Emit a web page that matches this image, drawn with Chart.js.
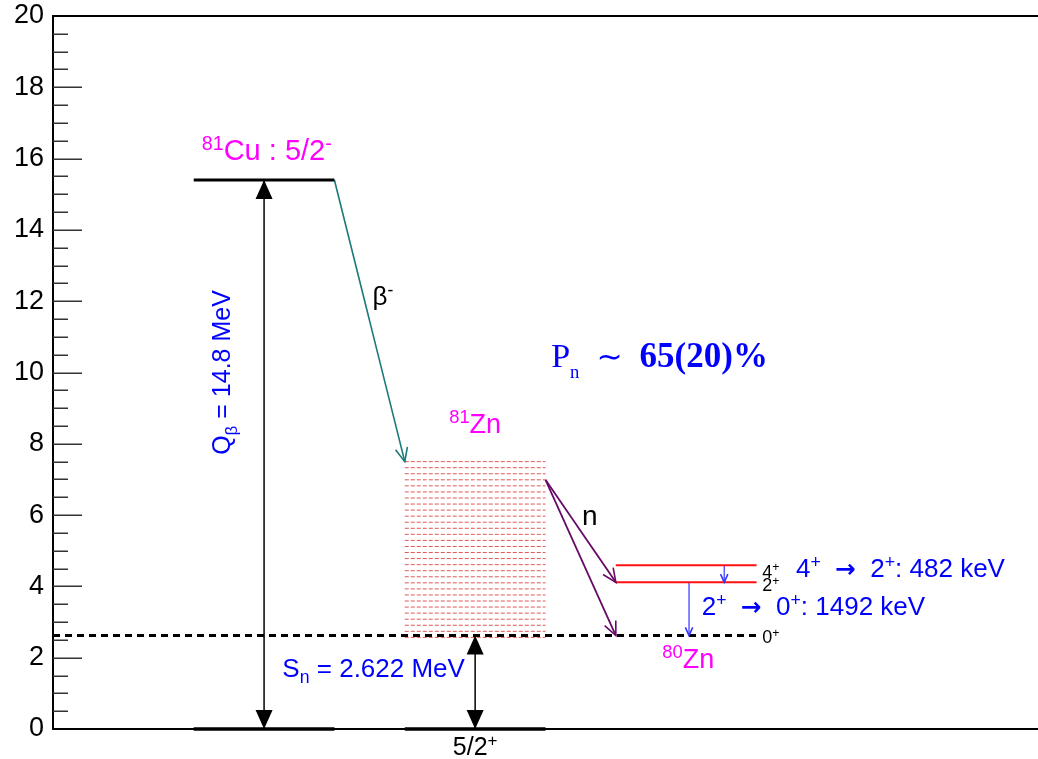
<!DOCTYPE html>
<html><head><meta charset="utf-8">
<script src="https://cdn.jsdelivr.net/npm/chart.js@4/dist/chart.umd.min.js"></script>
<style>html,body{margin:0;padding:0;background:#fff;overflow:hidden}canvas{display:block}</style>
</head><body>
<canvas id="c" width="1038" height="759"></canvas>
<script>
// ---------- data (energies in MeV) ----------
const yRange = [0, 20];
const yMajorTicks = [0, 2, 4, 6, 8, 10, 12, 14, 16, 18, 20];
const yMinorTicks = [0.5,1,1.5,2.5,3,3.5,4.5,5,5.5,6.5,7,7.5,8.5,9,9.5,10.5,11,11.5,12.5,13,13.5,14.5,15,15.5,16.5,17,17.5,18.5,19,19.5];
const cuGroundEnergy = 15.4;          // 81Cu 5/2- (drawn)
const groundEnergy = 0;               // reference levels
const snEnergy = 2.622;               // S_n
const zn80Levels = [4.114, 4.596];    // 80Zn 2+, 4+ (above 80Zn g.s. at S_n)
const zn81Continuum = [7.50,7.33,7.16,6.99,6.82,6.65,6.48,6.31,6.14,5.97,5.80,5.63,5.46,5.29,5.12,4.95,4.78,4.61,4.44,4.27,4.10,3.93,3.76,3.59,3.42,3.25,3.08,2.91,2.74,2.57];
const betaFeedEnergy = 7.50;
const neutronStartEnergy = 6.99;

// ---------- layout (x columns in arbitrary units) ----------
const COL = { cu:[1,2], zn81:[2.5,3.5], zn80:[4,5], sn:[0,5] };
const XQ = 1.5, XSN = 3.0, XG1 = 4.77, XG2 = 4.52;

const SANS = '"Liberation Sans", Arial, Helvetica, sans-serif';
const SERIF = '"Liberation Serif", "Times New Roman", serif';
const MAG = '#ff00ff', BLUE = '#0000ff';

function seg(a,b,e){ return [{x:a,y:e},{x:b,y:e}]; }
const datasets = [];
function line(data, color, width, extra){ datasets.push(Object.assign({data, showLine:true, borderColor:color, backgroundColor:color, borderWidth:width, pointRadius:0, clip:false, tension:0}, extra||{})); }

// 81Zn continuum
zn81Continuum.forEach(e => line(seg(COL.zn81[0], COL.zn81[1], e), 'rgba(220,60,60,0.85)', 1, {borderDash:[4,2]}));
// levels
line(seg(COL.cu[0], COL.cu[1], cuGroundEnergy), '#000', 3);
line(seg(COL.cu[0], COL.cu[1], groundEnergy), '#000', 3.5);
line(seg(COL.zn81[0], COL.zn81[1], groundEnergy), '#000', 3.5);
line(seg(COL.sn[0], COL.sn[1], snEnergy), '#000', 3, {borderDash:[7,5]});
zn80Levels.forEach(e => line(seg(COL.zn80[0], COL.zn80[1], e), '#ff1010', 2));
// arrows
line([{x:XQ,y:groundEnergy},{x:XQ,y:cuGroundEnergy}], '#000', 1.5, {arrow:'both', head:'filled'});
line([{x:XSN,y:groundEnergy},{x:XSN,y:snEnergy}], '#000', 1.5, {arrow:'both', head:'filled'});
line([{x:COL.cu[1],y:cuGroundEnergy},{x:COL.zn81[0],y:betaFeedEnergy}], '#1b7b78', 1.6, {arrow:'end', head:'open', hl:15});
line([{x:COL.zn81[1],y:neutronStartEnergy},{x:COL.zn80[0],y:zn80Levels[0]}], '#670a67', 1.8, {arrow:'end', head:'open', hl:15});
line([{x:COL.zn81[1],y:neutronStartEnergy},{x:COL.zn80[0],y:snEnergy}], '#670a67', 1.8, {arrow:'end', head:'open', hl:15});
line([{x:XG1,y:zn80Levels[1]},{x:XG1,y:zn80Levels[0]}], '#3535ff', 1.2, {arrow:'end', head:'open', hl:9});
line([{x:XG2,y:zn80Levels[0]},{x:XG2,y:snEnergy}], '#3535ff', 1.2, {arrow:'end', head:'open', hl:9});

// ---------- text annotations ----------
const texts = [
  {x:1.057, y:15.96, size:29, color:MAG, segs:[{t:'81',sup:1},{t:'Cu : 5/2'},{t:'-',sup:1}]},
  {x:2.27, y:11.89, size:26, color:'#000', segs:[{t:'β'},{t:'-',sup:1}]},
  {x:3.54, y:10.15, size:34, color:BLUE, fam:SERIF, segs:[{t:'P'},{t:'n',sub:1,subOff:0.32,ss:0.55},{t:'  '},{t:'∼',fam:'"DejaVu Sans"',ss:0.92},{t:'  '},{t:'65(20)%',bold:1,ss:1.03}]},
  {x:3.0, y:8.30, size:27, color:MAG, align:'center', segs:[{t:'81',sup:1},{t:'Zn'}]},
  {x:3.76, y:5.72, size:28, color:'#000', segs:[{t:'n'}]},
  {x:5.04, y:4.24, size:18, color:'#000', segs:[{t:'4'},{t:'+',sup:1}]},
  {x:5.04, y:3.87, size:18, color:'#000', segs:[{t:'2'},{t:'+',sup:1}]},
  {x:5.04, y:2.41, size:18, color:'#000', segs:[{t:'0'},{t:'+',sup:1}]},
  {x:5.28, y:4.26, size:26, color:BLUE, segs:[{t:'4'},{t:'+',sup:1},{t:'  '},{t:'→',bold:1,fam:'"DejaVu Sans"',ss:0.95},{t:'  '},{t:'2'},{t:'+',sup:1},{t:': 482 keV'}]},
  {x:4.61, y:3.20, size:26, color:BLUE, segs:[{t:'2'},{t:'+',sup:1},{t:'  '},{t:'→',bold:1,fam:'"DejaVu Sans"',ss:0.95},{t:'  '},{t:'0'},{t:'+',sup:1},{t:': 1492 keV'}]},
  {x:4.33, y:1.71, size:27, color:MAG, segs:[{t:'80',sup:1},{t:'Zn'}]},
  {x:1.63, y:1.46, size:26, color:BLUE, segs:[{t:'S'},{t:'n',sub:1},{t:' = 2.622 MeV'}]},
  {x:3.0, y:-0.73, size:25, color:'#000', align:'center', segs:[{t:'5/2'},{t:'+',sup:1}]},
  {x:1.26, y:7.69, size:25, color:BLUE, rot:-Math.PI/2, segs:[{t:'Q'},{t:'β',sub:1},{t:' = 14.8 MeV'}]},
];

function drawRich(ctx, px, py, T){
  const fam0 = T.fam || SANS, size = T.size;
  const parts = T.segs.map(s => {
    const small = s.sup || s.sub;
    const sz = size * (s.ss || (small ? 0.68 : 1));
    const font = (s.bold ? 'bold ' : '') + sz + 'px ' + (s.fam || fam0);
    ctx.font = font;
    const w = ctx.measureText(s.t).width;
    const dy = s.sup ? -size*0.36 : (s.sub ? size*(s.subOff||0.25) : 0);
    return {t:s.t, font, w, dy};
  });
  const total = parts.reduce((a,p)=>a+p.w, 0);
  ctx.save();
  ctx.translate(px, py);
  if (T.rot) ctx.rotate(T.rot);
  let cx = T.align==='center' ? -total/2 : 0;
  ctx.fillStyle = T.color; ctx.textAlign='left'; ctx.textBaseline='alphabetic';
  for (const p of parts){ ctx.font = p.font; ctx.fillText(p.t, cx, p.dy); cx += p.w; }
  ctx.restore();
}

function head(ctx, x0, y0, x1, y1, type, color, len){
  const a = Math.atan2(y1-y0, x1-x0);
  ctx.save();
  ctx.strokeStyle = color; ctx.fillStyle = color;
  if (type === 'filled'){
    const L = 19, W = 8.5;
    ctx.beginPath();
    ctx.moveTo(x1, y1);
    ctx.lineTo(x1 - L*Math.cos(a) + W*Math.sin(a), y1 - L*Math.sin(a) - W*Math.cos(a));
    ctx.lineTo(x1 - L*Math.cos(a) - W*Math.sin(a), y1 - L*Math.sin(a) + W*Math.cos(a));
    ctx.closePath(); ctx.fill();
  } else {
    const L = len || 14, sp = 0.42;
    ctx.lineWidth = 1.6;
    ctx.beginPath();
    ctx.moveTo(x1 - L*Math.cos(a-sp), y1 - L*Math.sin(a-sp));
    ctx.lineTo(x1, y1);
    ctx.lineTo(x1 - L*Math.cos(a+sp), y1 - L*Math.sin(a+sp));
    ctx.stroke();
  }
  ctx.restore();
}

const decor = {
  id:'decor',
  afterDatasetsDraw(chart){
    const ctx = chart.ctx, ca = chart.chartArea, ys = chart.scales.y, xs = chart.scales.x;
    ctx.save();
    // inward ticks
    ctx.strokeStyle = '#333'; ctx.lineWidth = 1.5;
    ctx.beginPath();
    yMajorTicks.forEach(v => { const p = Math.round(ys.getPixelForValue(v))+0.25; ctx.moveTo(ca.left, p); ctx.lineTo(ca.left+29, p); });
    yMinorTicks.forEach(v => { const p = Math.round(ys.getPixelForValue(v))+0.25; ctx.moveTo(ca.left, p); ctx.lineTo(ca.left+15, p); });
    ctx.stroke();
    // frame lines
    ctx.strokeStyle = '#000'; ctx.lineWidth = 2;
    ctx.beginPath();
    ctx.moveTo(ca.left-1, ys.getPixelForValue(yRange[1])); ctx.lineTo(ca.right, ys.getPixelForValue(yRange[1]));
    ctx.moveTo(ca.left-1, ys.getPixelForValue(yRange[0])); ctx.lineTo(ca.right, ys.getPixelForValue(yRange[0]));
    ctx.stroke();
    ctx.restore();
    // arrow heads
    chart.data.datasets.forEach((ds, i) => {
      if (!ds.arrow) return;
      const pts = chart.getDatasetMeta(i).data;
      const a = pts[0], b = pts[pts.length-1];
      head(ctx, a.x, a.y, b.x, b.y, ds.head, ds.borderColor, ds.hl);
      if (ds.arrow === 'both') head(ctx, b.x, b.y, a.x, a.y, ds.head, ds.borderColor, ds.hl);
    });
    // texts
    texts.forEach(T => drawRich(ctx, xs.getPixelForValue(T.x), ys.getPixelForValue(T.y), T));
  }
};

new Chart(document.getElementById('c'), {
  type:'scatter',
  data:{ datasets },
  options:{
    responsive:false, animation:false, devicePixelRatio:1,
    layout:{ padding:{ top:16, bottom:30, left:0, right:0 } },
    plugins:{ legend:{display:false}, tooltip:{enabled:false} },
    scales:{
      x:{ type:'linear', min:0, max:7, display:false },
      y:{ type:'linear', min:yRange[0], max:yRange[1],
          afterBuildTicks(s){ s.ticks = yMajorTicks.map(v => ({value:v})); },
          ticks:{ color:'#000', padding:9, font:{ family:SANS, size:27 } },
          grid:{ display:false, drawTicks:false },
          border:{ display:true, color:'#000', width:2 },
          afterFit(s){ s.width = 53; s.paddingTop = 0; s.paddingBottom = 0; } }
    }
  },
  plugins:[decor]
});
</script>
</body></html>
